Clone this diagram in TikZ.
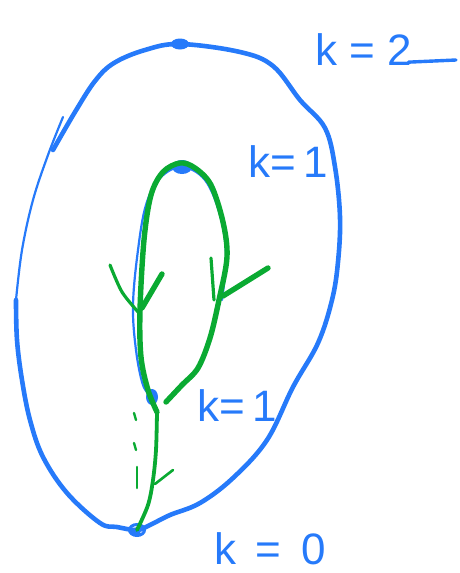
\documentclass[tikz,border=0pt]{standalone}
\usepackage{fontspec}
\setmainfont{Liberation Sans}
\definecolor{pen}{RGB}{38,122,250}
\definecolor{leaf}{RGB}{10,170,50}
\tikzset{
  outer/.style={pen,line width=4.6pt,line cap=round,line join=round},
  thinpen/.style={pen,line width=2.2pt,line cap=round,line join=round},
  flow/.style={leaf,line width=5.4pt,line cap=round,line join=round},
  barb/.style={leaf,line width=3.2pt,line cap=round},
  lbl/.style={pen,font=\fontsize{44}{44}\selectfont,inner sep=0pt},
  blob/.style={pen,fill=pen}
}
\begin{document}
\begin{tikzpicture}[x=1pt,y=-1pt]
\useasboundingbox (0,0) rectangle (459,573);
% critical points
\coordinate (top) at (180,44);
\coordinate (itop) at (182,167);
\coordinate (sad) at (152,397);
\coordinate (bot) at (137,530);
% outer contour
\draw[outer] plot[smooth,tension=0.6] coordinates {
 (53,150) (75,112) (95,81) (114,63) (145,50) (top) (240,52) (273,66) (300,100)
 (325,128) (335,167) (340,217) (338,262) (332,300) (318,343) (293,387) (267,440)
 (233,478) (200,503) (170,515) (150,525) (bot) (117,527) (100,523) (67,493)
 (43,457) (30,420) (22,380) (17,340) (16,300)};
\draw[thinpen] plot[smooth,tension=0.6] coordinates {
 (16,300) (22,250) (33,200) (48,155) (63,117)};
% inner blue loop (mostly under green)
\draw[thinpen] plot[smooth,tension=0.6] coordinates {
 (sad) (143,385) (136,350) (133,305) (138,250) (146,205) (160,178) (itop)
 (205,180) (220,215) (226,255) (222,300)};
% blobs
\fill[blob] (top) ellipse (9pt and 5.5pt);
\fill[blob] (itop) ellipse (10pt and 7pt);
\fill[blob] (sad) ellipse (6pt and 8pt);
\draw[pen,line width=3pt] (bot) ellipse (7.5pt and 5.5pt);
\fill[blob] (136,532) circle (4.5pt);
% green gradient flow
\draw[flow] plot[smooth,tension=0.55] coordinates {
 (166,402) (182,385) (198,368) (210,338) (219,300) (227,257) (223,222)
 (211,185) (195,168) (180,163) (163,172) (151,195) (144,240) (140,310)
 (141,357) (148,390) (157,412)};
\draw[leaf,line width=3.8pt,line cap=round] plot[smooth,tension=0.55] coordinates {
 (157,412) (156,450) (153,480) (148,505) (bot)};
% arrow barbs
\draw[barb] plot[smooth] coordinates {(110,265) (122,292) (139,313)};
\draw[flow] (162,274) -- (142,308);
\draw[barb] (211,258) -- (214,300);
\draw[flow] (268,268) -- (223,296);
\draw[leaf,line width=2.6pt,line cap=round] (137,467) -- (137,488);
\draw[leaf,line width=2.6pt,line cap=round] (173,470) -- (155,484);
% dotted marks
\draw[leaf,line width=2.4pt,line cap=round] (134,413) -- (136,420);
\draw[leaf,line width=2.4pt,line cap=round] (134,443) -- (136,450);
% labels
\node[lbl] (k2) at (364,50) {k\;=\;2};
\draw[pen,line width=3.4pt,line cap=round] (k2.south east) ++(-4,-4) -- (456,60);
\node[lbl] (k1a) at (288,162) {k=\,1};
\node[lbl] (k1b) at (237,406) {k=\,1};
\node[lbl] (k0) at (270,549) {k\;\,=\;\,0};
\end{tikzpicture}
\end{document}
